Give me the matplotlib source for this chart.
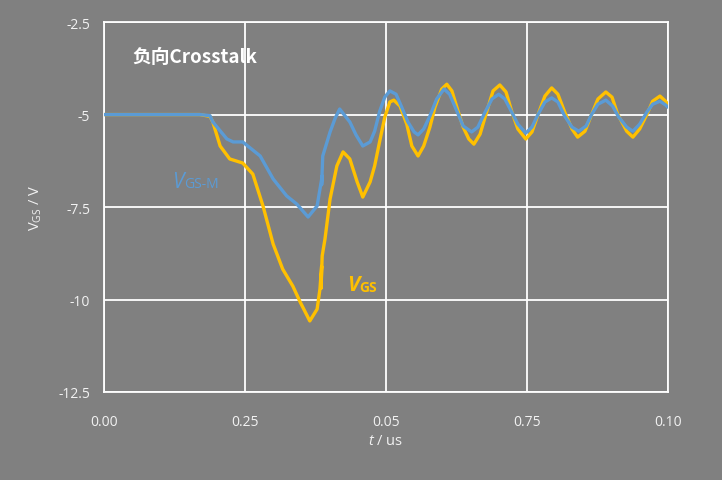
import matplotlib
matplotlib.use("Agg")
import matplotlib.pyplot as plt

# --- data (t in axis units, V in volts) ---
t_vgs = [0.0, 0.0170, 0.0188, 0.0193, 0.0206, 0.0223, 0.0246, 0.0264, 0.0282, 0.0300,
         0.0317, 0.0335, 0.0348, 0.0365, 0.0378, 0.0383, 0.0386, 0.0385, 0.0387, 0.0392,
         0.0401, 0.0413, 0.0424, 0.0436, 0.0449, 0.0459, 0.0472, 0.0480, 0.0489, 0.0498,
         0.0507, 0.0514, 0.0525, 0.0537, 0.0546, 0.0557, 0.0567, 0.0578, 0.0587, 0.0599,
         0.0608, 0.0617, 0.0628, 0.0637, 0.0647, 0.0656, 0.0667, 0.0679, 0.0690, 0.0702,
         0.0713, 0.0723, 0.0734, 0.0748, 0.0759, 0.0770, 0.0782, 0.0794, 0.0805, 0.0817,
         0.0830, 0.0840, 0.0853, 0.0865, 0.0876, 0.0890, 0.0901, 0.0911, 0.0927, 0.0938,
         0.0950, 0.0963, 0.0973, 0.0986, 0.0996, 0.1000]
v_vgs = [-5.0, -5.0, -5.05, -5.20, -5.85, -6.20, -6.31, -6.61, -7.47, -8.50,
         -9.18, -9.64, -10.07, -10.58, -10.26, -9.72, -9.10, -9.70, -8.82, -8.36,
         -7.28, -6.39, -6.01, -6.20, -6.82, -7.23, -6.82, -6.39, -5.72, -5.07,
         -4.66, -4.61, -4.77, -5.26, -5.85, -6.12, -5.85, -5.34, -4.80, -4.31,
         -4.18, -4.36, -4.91, -5.34, -5.66, -5.80, -5.53, -4.91, -4.36, -4.20,
         -4.39, -4.91, -5.39, -5.66, -5.47, -4.99, -4.50, -4.28, -4.45, -4.93,
         -5.39, -5.61, -5.45, -4.99, -4.58, -4.39, -4.53, -4.99, -5.45, -5.61,
         -5.39, -4.99, -4.64, -4.50, -4.64, -4.72]

t_vgsm = [0.0, 0.0170, 0.0188, 0.0193, 0.0218, 0.0229, 0.0246, 0.0277, 0.0300, 0.0324,
          0.0342, 0.0362, 0.0378, 0.0387, 0.0386, 0.0388, 0.0401, 0.0410, 0.0418, 0.0436,
          0.0447, 0.0459, 0.0472, 0.0480, 0.0489, 0.0498, 0.0507, 0.0518, 0.0528, 0.0539,
          0.0550, 0.0557, 0.0567, 0.0578, 0.0590, 0.0603, 0.0613, 0.0626, 0.0637, 0.0652,
          0.0663, 0.0676, 0.0688, 0.0700, 0.0711, 0.0723, 0.0734, 0.0748, 0.0759, 0.0770,
          0.0782, 0.0794, 0.0805, 0.0817, 0.0830, 0.0842, 0.0855, 0.0865, 0.0876, 0.0890,
          0.0902, 0.0913, 0.0927, 0.0938, 0.0950, 0.0963, 0.0973, 0.0986, 0.0996, 0.1000]
v_vgsm = [-5.0, -5.0, -5.03, -5.20, -5.66, -5.74, -5.74, -6.12, -6.74, -7.20,
          -7.42, -7.77, -7.47, -6.66, -6.90, -6.12, -5.47, -5.10, -4.85, -5.20,
          -5.55, -5.85, -5.74, -5.45, -4.91, -4.53, -4.36, -4.45, -4.80, -5.20,
          -5.47, -5.55, -5.39, -5.04, -4.58, -4.31, -4.45, -4.91, -5.31, -5.47,
          -5.34, -4.93, -4.58, -4.45, -4.58, -4.93, -5.26, -5.50, -5.34, -4.99,
          -4.66, -4.55, -4.66, -5.04, -5.34, -5.45, -5.31, -4.99, -4.72, -4.61,
          -4.77, -5.07, -5.34, -5.45, -5.26, -4.93, -4.72, -4.64, -4.74, -4.80]

x_ticks = [0.0, 0.025, 0.05, 0.075, 0.1]
x_tick_labels = ["0.00", "0.25", "0.05", "0.75", "0.10"]
y_ticks = [-12.5, -10, -7.5, -5, -2.5]
y_tick_labels = ["-12.5", "-10", "-7.5", "-5", "-2.5"]

BG = "#808080"
YELLOW = "#FFC000"
BLUE = "#5B9BD5"
TXT = "#F2F2F2"

plt.rcParams['font.family'] = ['Open Sans', 'Noto Sans CJK SC', 'DejaVu Sans']
plt.rcParams['mathtext.fontset'] = 'custom'
plt.rcParams['mathtext.rm'] = 'Open Sans'
plt.rcParams['mathtext.it'] = 'Open Sans:italic'

fig = plt.figure(figsize=(7.22, 4.81), dpi=100, facecolor=BG)
ax = fig.add_axes([0.144, 0.183, 0.781, 0.769], facecolor=BG)

ax.plot(t_vgs, v_vgs, color=YELLOW, lw=2.4, zorder=3,
        solid_joinstyle="round", solid_capstyle="round")
ax.plot(t_vgsm, v_vgsm, color=BLUE, lw=2.4, zorder=4,
        solid_joinstyle="round", solid_capstyle="round")

ax.set_xlim(0, 0.1)
ax.set_ylim(-12.5, -2.5)
ax.set_xticks(x_ticks)
ax.set_xticklabels(x_tick_labels)
ax.set_yticks(y_ticks)
ax.set_yticklabels(y_tick_labels)
ax.tick_params(length=0, colors=TXT, labelsize=10, pad=10)
ax.tick_params(axis='x', pad=16)
ax.grid(True, color="white", lw=1.3, zorder=1)
ax.set_axisbelow(True)
for s in ax.spines.values():
    s.set_color("white")
    s.set_linewidth(1.3)

ax.set_xlabel("$t$ / us", color=TXT, fontsize=10.5, labelpad=3)
ax.set_ylabel(r"$\mathrm{V}_{\mathrm{GS}}$ / V", color=TXT, fontsize=10.5, labelpad=10)

ax.text(0.005, -3.42, "负向Crosstalk", color="white", fontsize=13.5, fontweight="bold",
        family=['Noto Sans CJK SC', 'DejaVu Sans'], va="center", ha="left")

# curve labels: italic V with small subscript
v1 = ax.text(0.0121, -6.82, "V", color=BLUE, fontsize=15, style="italic", va="center", ha="left")
ax.annotate("GS-M", xy=(1, 0), xycoords=v1, xytext=(0, 1), textcoords="offset points",
            color=BLUE, fontsize=10, va="bottom", ha="left")
v2 = ax.text(0.0431, -9.6, "V", color=YELLOW, fontsize=15, style="italic", fontweight="bold",
             va="center", ha="left")
ax.annotate("GS", xy=(1, 0), xycoords=v2, xytext=(0, 1), textcoords="offset points",
            color=YELLOW, fontsize=10, fontweight="bold", va="bottom", ha="left")

fig.savefig("out.png", dpi=100, facecolor=BG)
